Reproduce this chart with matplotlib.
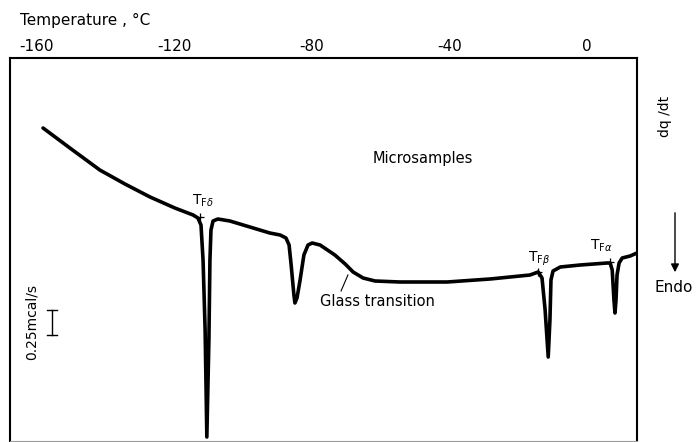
import matplotlib
matplotlib.use("Agg")
import matplotlib.pyplot as plt

# Temperature (deg C) and heat flow (mcal/s, arbitrary zero) of the DSC trace
temperature = [-158.1, -150.3, -141.6, -134.3, -127.0, -119.8, -114.5, -113.1, -112.2,
               -111.6, -111.0, -110.5, -109.9, -109.6, -109.3, -108.7, -107.3, -103.8,
               -98.0, -92.2, -89.2, -87.5, -86.6, -86.0, -85.2, -84.9, -84.3, -83.4,
               -82.3, -81.1, -79.9, -77.6, -73.3, -70.3, -68.0, -65.1, -61.6, -54.4,
               -40.7, -28.2, -16.6, -14.2, -13.1, -12.2, -11.3, -10.8, -10.5, -9.9,
               -7.8, -2.0, 5.8, 6.7, 7.3, 7.8, 8.1, 8.4, 8.7, 9.3, 10.2, 12.5, 14.5]
heat_flow = [3.14, 2.94, 2.72, 2.58, 2.45, 2.34, 2.27, 2.24, 2.17,
             1.82, 1.12, 0.05, 1.02, 1.82, 2.12, 2.21, 2.23, 2.21,
             2.15, 2.09, 2.07, 2.04, 1.97, 1.77, 1.47, 1.39, 1.44, 1.62,
             1.87, 1.97, 1.99, 1.97, 1.87, 1.78, 1.70, 1.64, 1.61, 1.60,
             1.60, 1.63, 1.67, 1.70, 1.64, 1.32, 0.85, 1.22, 1.62, 1.71,
             1.75, 1.77, 1.79, 1.79, 1.72, 1.42, 1.29, 1.42, 1.67, 1.79, 1.84, 1.86, 1.89]

# onset markers (T, heat flow) and labels
onset_T = [-112.5, -14.2, 6.7]
onset_q = [2.25, 1.70, 1.80]
onset_labels = [r"T$_{\mathrm{F}\delta}$", r"T$_{\mathrm{F}\beta}$", r"T$_{\mathrm{F}\alpha}$"]

tick_values = [-160, -120, -80, -40, 0]
tick_labels = ["-160", "-120", "-80", "-40", "0"]

scale_bar = [1.07, 1.32]  # 0.25 mcal/s

plt.rcParams['font.family'] = ['DejaVu Sans']
fig = plt.figure(figsize=(6.96, 4.42), dpi=100)
ax = fig.add_axes([10/696, 1/442, 627/696, 383/442])

ax.plot(temperature, heat_flow, color='black', lw=2.6, solid_joinstyle='round',
        solid_capstyle='round')
ax.plot(onset_T, onset_q, linestyle='none', marker='+', color='black', ms=6, mew=0.9)

label_pos = [(-114.8, 2.37), (-17.2, 1.80), (0.9, 1.92)]
for (lx, ly), lab in zip(label_pos, onset_labels):
    ax.text(lx, ly, lab, fontsize=10, ha='left', va='baseline')

ax.text(-77.6, 1.40, "Glass transition", fontsize=10.5, ha='left', va='center')
ax.plot([-69.5, -71.5], [1.67, 1.51], color='black', lw=0.8)
ax.text(-62.2, 2.84, "Microsamples", fontsize=10.5, ha='left', va='center')

# scale bar
ax.plot([-155.5, -155.5], scale_bar, color='black', lw=1.0)
for yb in scale_bar:
    ax.plot([-157.0, -154.0], [yb, yb], color='black', lw=1.0)
ax.text(-161.5, 1.20, "0.25mcal/s", rotation=90, fontsize=10, ha='center', va='center')

ax.set_xlim(-167.7, 14.5)
ax.set_ylim(0.01, 3.84)
ax.xaxis.tick_top()
ax.set_xticks(tick_values)
ax.set_xticklabels(tick_labels, fontsize=11)
ax.tick_params(axis='x', length=0, pad=3)
ax.set_yticks([])
for s in ['top', 'left', 'right']:
    ax.spines[s].set_linewidth(1.5)
ax.spines['bottom'].set_linewidth(0.8)
ax.spines['bottom'].set_color('0.6')

fig.text(20/696, 1 - 20/442, "Temperature , \u00b0C", fontsize=11, ha='left', va='center')
fig.text(665/696, 1 - 116/442, "dq /dt", rotation=90, fontsize=10, ha='center', va='center')
fig.add_artist(matplotlib.patches.FancyArrowPatch((675/696, 1 - 210/442), (675/696, 1 - 275/442),
               transform=fig.transFigure, arrowstyle='-|>', mutation_scale=12,
               color='black', lw=1.0))
fig.text(674/696, 1 - 288/442, "Endo", fontsize=11, ha='center', va='center')

fig.savefig("out.png", dpi=100)
